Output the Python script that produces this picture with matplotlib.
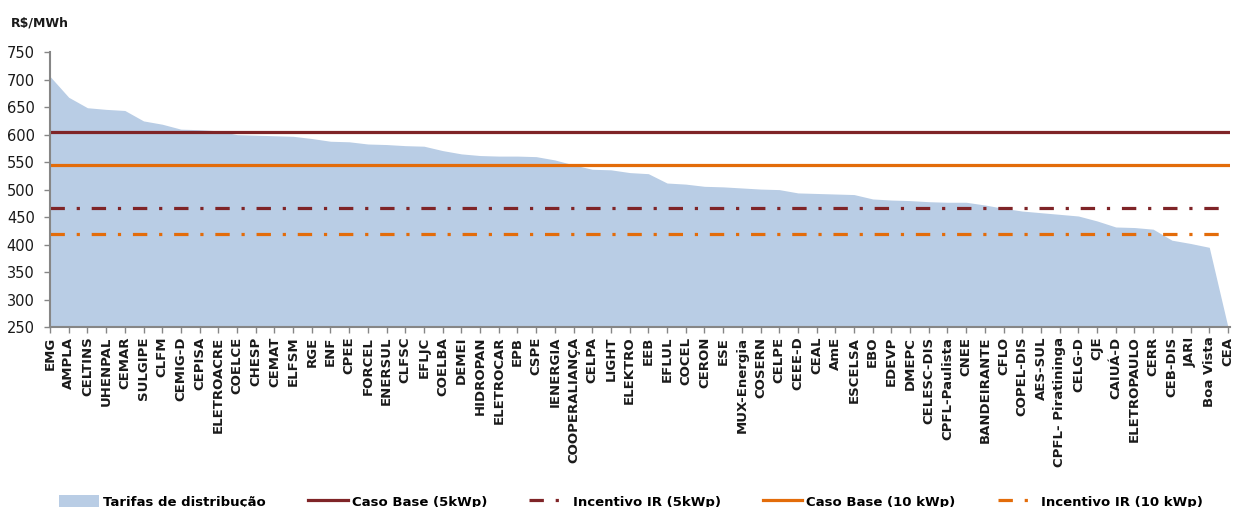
import matplotlib
matplotlib.use('Agg')
import matplotlib.pyplot as plt
import matplotlib.patches as mpatches
from matplotlib.lines import Line2D
import numpy as np

# distribuidoras, ordered by tariff (R$/MWh)
distribuidoras = ['EMG', 'AMPLA', 'CELTINS', 'UHENPAL', 'CEMAR', 'SULGIPE', 'CLFM',
                  'CEMIG-D', 'CEPISA', 'ELETROACRE', 'COELCE', 'CHESP', 'CEMAT',
                  'ELFSM', 'RGE', 'ENF', 'CPEE', 'FORCEL', 'ENERSUL', 'CLFSC',
                  'EFLJC', 'COELBA', 'DEMEI', 'HIDROPAN', 'ELETROCAR', 'EPB', 'CSPE',
                  'IENERGIA', 'COOPERALIANÇA', 'CELPA', 'LIGHT', 'ELEKTRO', 'EEB',
                  'EFLUL', 'COCEL', 'CERON', 'ESE', 'MUX-Energia', 'COSERN', 'CELPE',
                  'CEEE-D', 'CEAL', 'AmE', 'ESCELSA', 'EBO', 'EDEVP', 'DMEPC',
                  'CELESC-DIS', 'CPFL-Paulista', 'CNEE', 'BANDEIRANTE', 'CFLO',
                  'COPEL-DIS', 'AES-SUL', 'CPFL- Piratininga', 'CELG-D', 'CJE',
                  'CAIUÁ-D', 'ELETROPAULO', 'CERR', 'CEB-DIS', 'JARI', 'Boa Vista', 'CEA']

tarifas = [706, 668, 649, 646, 644, 625, 619, 610, 609, 607, 600, 599, 598,
           597, 593, 588, 587, 583, 582, 580, 579, 571, 565, 562, 561, 561, 560,
           554, 545, 537, 536, 531, 529, 512, 510, 506, 505, 503, 501, 500,
           494, 493, 492, 491, 483, 481, 480, 478, 477, 477, 472, 466,
           461, 458, 455, 452, 443, 432, 431, 428, 408, 402, 395, 250]

caso_base_5 = 604
incentivo_5 = 466
caso_base_10 = 544
incentivo_10 = 420

c_area = '#B9CDE5'
c_red = '#7F2427'
c_orange = '#E36C0A'
c_axis = '#868686'
dashdot = (0, (4.5, 3.7, 1.0, 3.7))

fig = plt.figure(figsize=(12.38, 5.07), dpi=100)
ax = fig.add_axes([0.0404, 0.355, 0.953, 0.542])

x = np.arange(len(distribuidoras))
ax.fill_between(x, tarifas, 0, color=c_area, lw=0, zorder=1)
ax.axhline(caso_base_5, color=c_red, lw=2.3, zorder=3)
ax.axhline(incentivo_5, color=c_red, lw=2.3, ls=dashdot, zorder=3)
ax.axhline(caso_base_10, color=c_orange, lw=2.3, zorder=3)
ax.axhline(incentivo_10, color=c_orange, lw=2.3, ls=dashdot, zorder=3)

ax.set_xlim(0, len(distribuidoras) - 1 + 0.1)
ax.set_ylim(250, 750)
ax.set_yticks(range(250, 751, 50))
ax.set_xticks(x)
ax.set_xticklabels(distribuidoras, rotation=90, fontsize=9.5, fontweight='bold',
                   color='#1a1a1a')
ax.tick_params(axis='y', labelsize=10.5, colors=c_axis, labelcolor='#1a1a1a',
               length=4, width=1, pad=7)
ax.tick_params(axis='x', colors=c_axis, labelcolor='#1a1a1a', length=4, width=1, pad=3)

for s in ['top', 'right']:
    ax.spines[s].set_visible(False)
for s in ['left', 'bottom']:
    ax.spines[s].set_color(c_axis)
    ax.spines[s].set_linewidth(1.5)
    ax.spines[s].set_zorder(4)

fig.text(0.009, 0.955, 'R$/MWh', fontsize=9, fontweight='bold', color='#1a1a1a',
         va='center')

handles = [mpatches.Patch(color=c_area, lw=0),
           Line2D([], [], color=c_red, lw=2.3),
           Line2D([], [], color=c_red, lw=2.3, ls=dashdot),
           Line2D([], [], color=c_orange, lw=2.3),
           Line2D([], [], color=c_orange, lw=2.3, ls=dashdot)]
labels = ['Tarifas de distribução', 'Caso Base (5kWp)', 'Incentivo IR (5kWp)',
          'Caso Base (10 kWp)', 'Incentivo IR (10 kWp)']
fig.legend(handles, labels, loc='center', bbox_to_anchor=(0.51, 0.01), ncol=5,
           frameon=False, prop={'size': 9.5, 'weight': 'bold'}, handlelength=3,
           handleheight=1.3, handletextpad=0.3, columnspacing=3.2)

plt.savefig('out.png', dpi=100)
